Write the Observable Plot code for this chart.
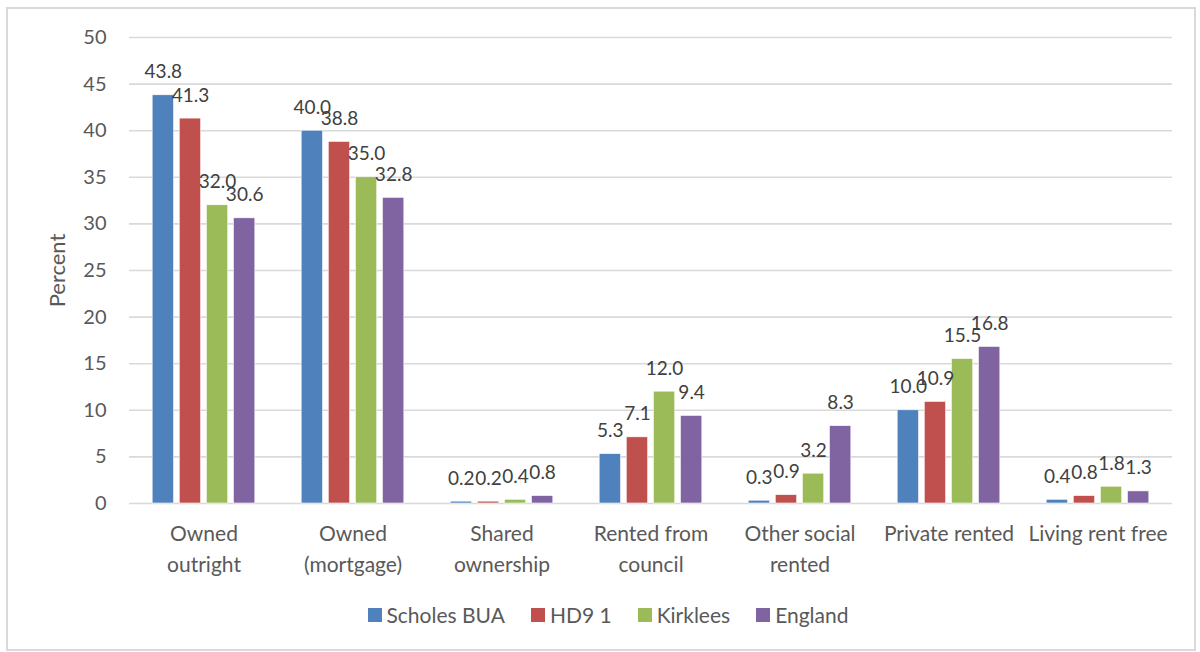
<!DOCTYPE html>
<html><head><meta charset="utf-8">
<script src="https://cdn.jsdelivr.net/npm/d3@7"></script>
<script src="https://cdn.jsdelivr.net/npm/@observablehq/plot@0.6"></script>
<style>
body{margin:0;background:#fff;font-family:Lato,"Open Sans",sans-serif;}
#wrap{position:relative;width:1200px;height:652px;overflow:hidden;}
#frame{position:absolute;left:6px;top:7px;width:1186px;height:640px;border:2px solid #d9d9d9;pointer-events:none;}
#chart{position:absolute;left:0;top:0;}
#legend{position:absolute;left:0;top:602px;width:1200px;display:flex;justify-content:center;gap:26px;font-size:21px;color:#595959;padding-left:16px;box-sizing:border-box;}
#legend span.item{display:flex;align-items:center;gap:5px;}
#legend span.sw{display:inline-block;width:14px;height:14px;}
</style></head>
<body><div id="wrap"><div id="chart"></div><div id="legend"></div><div id="frame"></div></div>
<script>
const categories = ["Owned\noutright", "Owned\n(mortgage)", "Shared\nownership", "Rented from\ncouncil", "Other social\nrented", "Private rented", "Living rent free"];
const seriesNames = ["Scholes BUA", "HD9 1", "Kirklees", "England"];
const colors = ["#4f81bd", "#c0504d", "#9bbb59", "#8064a2"];
const scholes = [43.8, 40.0, 0.2, 5.3, 0.3, 10.0, 0.4];
const hd91 = [41.3, 38.8, 0.2, 7.1, 0.9, 10.9, 0.8];
const kirklees = [32.0, 35.0, 0.4, 12.0, 3.2, 15.5, 1.8];
const england = [30.6, 32.8, 0.8, 9.4, 8.3, 16.8, 1.3];
const yTicks = [0, 5, 10, 15, 20, 25, 30, 35, 40, 45, 50];

const seriesValues = [scholes, hd91, kirklees, england];
const data = [];
categories.forEach((c, i) => seriesNames.forEach((s, j) => data.push({category: c, series: s, value: seriesValues[j][i]})));

const chart = Plot.plot({
  width: 1200, height: 595,
  marginTop: 37, marginBottom: 92, marginLeft: 127, marginRight: 26,
  style: {fontFamily: "Lato, 'Open Sans', sans-serif", background: "transparent"},
  fx: {domain: categories, paddingInner: 0, paddingOuter: 0, label: null},
  x: {domain: seriesNames, paddingInner: 0.21, paddingOuter: 0.855, round: false, axis: null},
  y: {domain: [0, 50], axis: null},
  color: {domain: seriesNames, range: colors},
  marks: [
    Plot.gridY(yTicks, {stroke: "#d9d9d9", strokeOpacity: 1, strokeWidth: 1.6}),
    Plot.barY(data, {fx: "category", x: "series", y: "value", fill: "series", stroke: "white", strokeWidth: 0.6}),
    Plot.text(data, {fx: "category", x: "series", y: "value", text: d => d.value.toFixed(1), dy: -23, fontSize: 19, fill: "#404040"}),
    Plot.axisY(yTicks, {tickSize: 0, tickPadding: 23, fontSize: 20, color: "#595959", label: "Percent", labelArrow: "none", labelAnchor: "center", labelOffset: 80, anchor: "left", facetAnchor: "left"}),
    Plot.axisFx({tickSize: 0, tickPadding: 16, fontSize: 21, color: "#595959", lineHeight: 1.45, label: null, anchor: "bottom"})
  ]
});
document.getElementById("chart").appendChild(chart);
chart.querySelectorAll("text").forEach(t => {
  if (t.textContent === "Percent") { t.style.fontSize = "22px"; t.setAttribute("font-size", "22"); }
});

const legend = document.getElementById("legend");
seriesNames.forEach((s, i) => {
  const item = document.createElement("span"); item.className = "item";
  const sw = document.createElement("span"); sw.className = "sw"; sw.style.background = colors[i];
  item.appendChild(sw); item.appendChild(document.createTextNode(s));
  legend.appendChild(item);
});
</script></body></html>
